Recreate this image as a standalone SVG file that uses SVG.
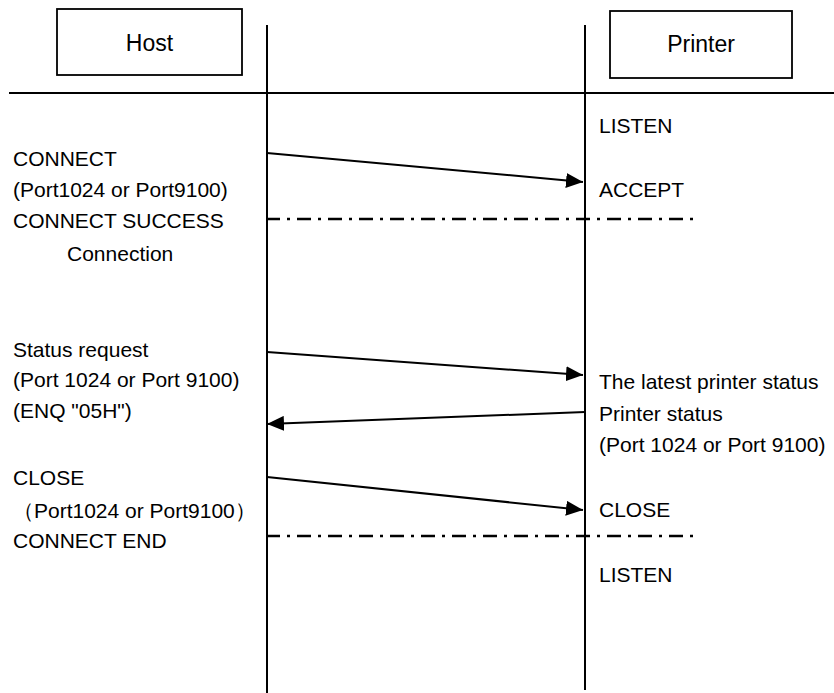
<svg xmlns="http://www.w3.org/2000/svg" width="834" height="693" viewBox="0 0 834 693">
<defs>
<style>
.t{font-family:"Liberation Sans",Arial,sans-serif;font-size:21px;fill:#000}
.h{font-family:"Liberation Sans",Arial,sans-serif;font-size:23px;fill:#000;text-anchor:middle}
.box{fill:#fff;stroke:#000;stroke-width:1.8}
.life{stroke:#000;stroke-width:2;fill:none}
.msg{stroke:#000;stroke-width:2;fill:none}
.dd{stroke:#000;stroke-width:2.5;fill:none;stroke-dasharray:14 7 3 7}
</style>
<marker id="ah" viewBox="0 0 17 15" refX="17" refY="7.5" markerWidth="17" markerHeight="15" markerUnits="userSpaceOnUse" orient="auto">
<path d="M0,0 L17,7.5 L0,15 Z" fill="#000"/>
</marker>
</defs>
<rect width="834" height="693" fill="#fff"/>
<g id="host">
<rect class="box" x="57" y="9" width="185" height="66"/>
<text class="h" x="149.5" y="51">Host</text>
</g>
<g id="printer">
<rect class="box" x="610" y="11" width="182" height="67"/>
<text class="h" x="701" y="52">Printer</text>
</g>
<g id="lifelines">
<line class="life" x1="9" y1="93" x2="834" y2="93"/>
<line class="life" x1="267" y1="25" x2="267" y2="693"/>
<line class="life" x1="585" y1="25" x2="585" y2="690"/>
</g>
<g id="connectors">
<line class="msg" x1="267" y1="153" x2="583" y2="182" marker-end="url(#ah)" stroke-width="2.4"/>
<line class="dd" x1="266" y1="219" x2="697" y2="219"/>
<line class="msg" x1="267" y1="352" x2="583" y2="375" marker-end="url(#ah)" stroke-width="1.7"/>
<line class="msg" x1="585" y1="412" x2="267" y2="424" marker-end="url(#ah)" stroke-width="1.7"/>
<line class="msg" x1="267" y1="477" x2="583" y2="510" marker-end="url(#ah)" stroke-width="2.2"/>
<line class="dd" x1="266" y1="536" x2="697" y2="536"/>
</g>
<g id="host-labels">
<text class="t" x="13" y="166">CONNECT</text>
<text class="t" x="13" y="197">(Port1024 or Port9100)</text>
<text class="t" x="13" y="228">CONNECT SUCCESS</text>
<text class="t" x="67" y="261">Connection</text>
<text class="t" x="13" y="357">Status request</text>
<text class="t" x="13" y="387">(Port 1024 or Port 9100)</text>
<text class="t" x="13" y="418">(ENQ "05H")</text>
<text class="t" x="13" y="485">CLOSE</text>
<text class="t" x="13" y="518">（Port1024 or Port9100）</text>
<text class="t" x="13" y="548">CONNECT END</text>
</g>
<g id="printer-labels">
<text class="t" x="599" y="133">LISTEN</text>
<text class="t" x="599" y="197">ACCEPT</text>
<text class="t" x="599" y="389">The latest printer status</text>
<text class="t" x="599" y="421">Printer status</text>
<text class="t" x="599" y="452">(Port 1024 or Port 9100)</text>
<text class="t" x="599" y="517">CLOSE</text>
<text class="t" x="599" y="582">LISTEN</text>
</g>
</svg>
